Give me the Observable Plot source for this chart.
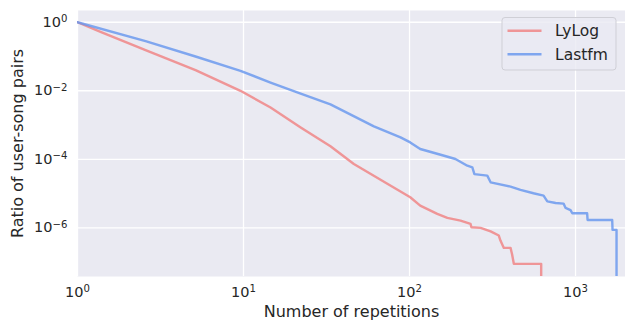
<!DOCTYPE html>
<html><head><meta charset="utf-8">
<script src="https://cdn.jsdelivr.net/npm/d3@7"></script>
<script src="https://cdn.jsdelivr.net/npm/@observablehq/plot@0.6"></script>
<style>
body{margin:0;background:#fff;}
#chart{position:relative;width:625px;height:320px;}
g[aria-label="x-axis label"] text, g[aria-label="y-axis label"] text {font-size:16px;}
</style>
</head><body><div id="chart"></div>
<script>
// Series names and colours
const seriesNames = ["LyLog", "Lastfm"];
const seriesColors = ["#F08080", "#6495ED"];

// LyLog CCDF (last value falls below the axis)
const lylogX = [1, 1.376, 2.57, 5.14, 9.59, 14.55, 22.1, 33.4, 46.2, 101, 116, 147, 169, 203, 233, 236, 268, 308, 345, 353, 370, 406, 415, 425, 621, 621];
const lylogY = [1, 0.522, 0.153, 0.040, 9.97e-3, 3.25e-3, 8.5e-4, 2.4e-4, 7.3e-5, 7.8e-6, 4.46e-6, 2.55e-6, 1.95e-6, 1.63e-6, 1.31e-6, 1.04e-6, 1.0e-6, 7.9e-7, 5.96e-7, 4.26e-7, 2.6e-7, 2.6e-7, 1.67e-7, 8.9e-8, 8.9e-8, 1e-9];

// Lastfm CCDF
const lastfmX = [1, 2.57, 5.14, 9.59, 14.55, 22.1, 33.4, 61, 88.3, 101, 116, 154, 189, 223, 239, 246, 294, 308, 406, 466, 558, 642, 676, 759, 847, 871, 933, 956, 1175, 1182, 1663, 1671, 1766, 1766];
const lastfmY = [1, 0.28, 0.1, 0.0381, 0.0174, 8.3e-3, 4.0e-3, 9.1e-4, 4.35e-4, 3.11e-4, 2.0e-4, 1.36e-4, 1.02e-4, 6.5e-5, 5.8e-5, 3.7e-5, 3.33e-5, 2.13e-5, 1.6e-5, 1.28e-5, 1.02e-5, 8.7e-6, 5.9e-6, 5.3e-6, 5.1e-6, 3.8e-6, 3.3e-6, 2.66e-6, 2.66e-6, 1.7e-6, 1.7e-6, 8.7e-7, 8.7e-7, 1e-9];

// Ticks
const ticksX = [1, 10, 100, 1000];
const tickLabelsX = ["10^0", "10^1", "10^2", "10^3"];
const ticksY = [1, 1e-2, 1e-4, 1e-6];
const tickLabelsY = ["10^0", "10^\u22122", "10^\u22124", "10^\u22126"];

const xLabel = "Number of repetitions";
const yLabel = "Ratio of user-song pairs";

const lylog = lylogX.map((x, i) => ({x, y: lylogY[i]}));
const lastfm = lastfmX.map((x, i) => ({x, y: lastfmY[i]}));

const lineOpts = {x: "x", y: "y", strokeWidth: 2.4, strokeOpacity: 0.8, strokeLinejoin: "round", clip: true};

const chart = Plot.plot({
  width: 625, height: 320,
  marginLeft: 77, marginRight: 0, marginTop: 10, marginBottom: 44,
  style: {fontFamily: "DejaVu Sans", fontSize: "14.5px", color: "#262626", background: "#fff"},
  x: {type: "log", domain: [1, 2000]},
  y: {type: "log", domain: [3.8e-8, 2.2]},
  marks: [
    Plot.frame({fill: "#EAEAF2", stroke: "none"}),
    Plot.gridX(ticksX, {stroke: "#fff", strokeOpacity: 1, strokeWidth: 1.3}),
    Plot.gridY(ticksY, {stroke: "#fff", strokeOpacity: 1, strokeWidth: 1.3}),
    Plot.axisX({ticks: ticksX, tickFormat: d => tickLabelsX[ticksX.indexOf(d)], tickSize: 0, tickPadding: 10,
      label: xLabel, labelAnchor: "center", labelArrow: "none", labelOffset: 40}),
    Plot.axisY({ticks: ticksY, tickFormat: d => tickLabelsY[ticksY.indexOf(d)], tickSize: 0, tickPadding: 10,
      label: yLabel, labelAnchor: "center", labelArrow: "none", labelOffset: 66}),
    Plot.line(lylog, {...lineOpts, stroke: seriesColors[0]}),
    Plot.line(lastfm, {...lineOpts, stroke: seriesColors[1]})
  ]
});

// superscript tick labels
d3.select(chart).selectAll("text").each(function() {
  const t = this.textContent;
  if (t.includes("^") && this.children.length === 0) {
    const [base, exp] = t.split("^");
    const s = d3.select(this);
    s.text(null);
    s.append("tspan").text(base);
    s.append("tspan").attr("dy", "-0.48em").attr("font-size", "70%").text(exp);
  }
});

// legend inside the plot (upper right)
const svg = d3.select(chart);
const lg = svg.append("g").attr("font-family", "DejaVu Sans").attr("font-size", "15.5px").attr("text-anchor", "start");
lg.append("rect").attr("x", 502).attr("y", 17.5).attr("width", 114).attr("height", 52.5)
  .attr("rx", 3).attr("fill", "#EAEAF2").attr("fill-opacity", 0.8).attr("stroke", "#cfcfd6");
seriesNames.forEach((name, i) => {
  const yy = 30.7 + i * 23.6;
  lg.append("line").attr("x1", 507.5).attr("x2", 541.5).attr("y1", yy).attr("y2", yy)
    .attr("stroke", seriesColors[i]).attr("stroke-opacity", 0.8).attr("stroke-width", 2.4);
  lg.append("text").attr("x", 555).attr("y", yy).attr("dy", "0.36em").attr("fill", "#262626").text(name);
});

document.getElementById("chart").append(chart);
</script>
</body></html>
